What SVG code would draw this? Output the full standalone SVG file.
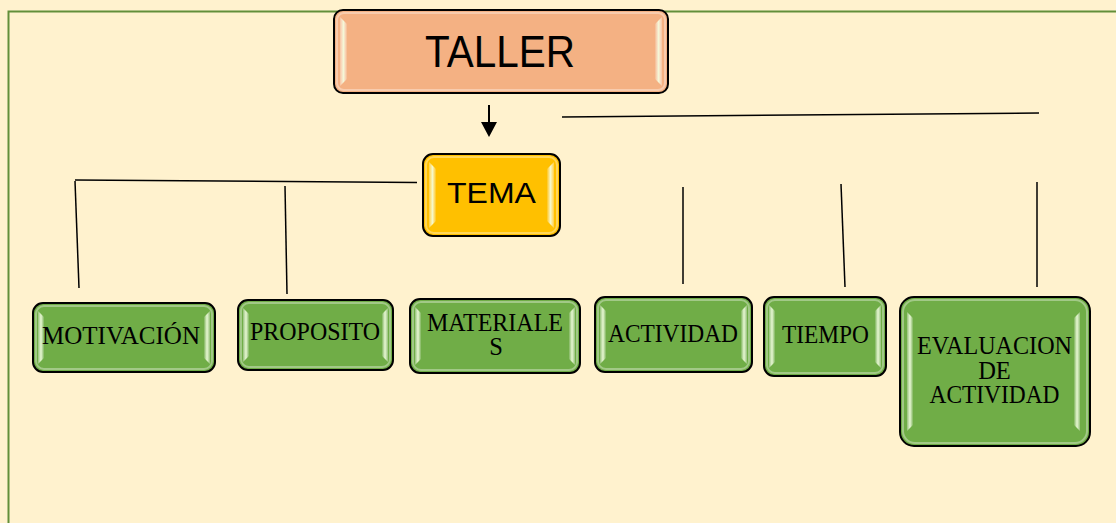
<svg xmlns="http://www.w3.org/2000/svg" width="1116" height="523" viewBox="0 0 1116 523">
<style>
.box{stroke:#000;stroke-width:2}
.green{fill:#70AD47}
.lbl{font-family:"Liberation Serif","Times New Roman",serif;font-size:24.5px;fill:#000;text-anchor:middle}
.sans{font-family:"Liberation Sans",Arial,sans-serif;fill:#000;text-anchor:middle}
.conn{stroke:#000;stroke-width:1.5;fill:none}
.hl{fill:url(#hlL)}
.hr{fill:url(#hlR)}
.inner{fill:none;stroke:#fff;stroke-opacity:0.35;stroke-width:2}
</style>
<defs>
<linearGradient id="hlL" x1="0" y1="0" x2="1" y2="0">
<stop offset="0" stop-color="#fff" stop-opacity="0.25"/>
<stop offset="0.5" stop-color="#f4ffe0" stop-opacity="0.9"/>
<stop offset="1" stop-color="#fff" stop-opacity="0.1"/>
</linearGradient>
<linearGradient id="hlR" x1="0" y1="0" x2="1" y2="0">
<stop offset="0" stop-color="#fff" stop-opacity="0.1"/>
<stop offset="0.5" stop-color="#f4ffe0" stop-opacity="0.9"/>
<stop offset="1" stop-color="#fff" stop-opacity="0.25"/>
</linearGradient>
</defs>
<rect x="0" y="0" width="1116" height="523" fill="#FFF2CE"/>
<path d="M8.5,523 L8.5,11.5 L1116,11.5" fill="none" stroke="#628F3A" stroke-width="2"/>

<g id="connectors">
<line x1="489" y1="105" x2="489" y2="122" stroke="#000" stroke-width="2"/>
<path d="M481,122 L497,122 L489,137 Z" fill="#000"/>
<line class="conn" x1="562" y1="117" x2="1039" y2="113" stroke-width="2"/>
<line class="conn" x1="75" y1="180" x2="417" y2="182.5"/>
<line class="conn" x1="75" y1="181" x2="79" y2="288"/>
<line class="conn" x1="285" y1="186" x2="287" y2="294"/>
<line class="conn" x1="683" y1="187" x2="683" y2="284"/>
<line class="conn" x1="841" y1="184" x2="845" y2="287"/>
<line class="conn" x1="1037" y1="182" x2="1037" y2="287"/>
</g>

<g id="taller">
<rect class="box" x="334" y="10" width="334" height="83" rx="9" fill="#F4B183"/>
<rect class="inner" x="337" y="13" width="328" height="77" rx="7"/>
<path class="hl" d="M340,17 L347,24 L347,79 L340,86 Z"/>
<path class="hr" d="M655,24 L662,17 L662,86 L655,79 Z"/>
<text class="sans" x="500" y="67" font-size="45" textLength="150" lengthAdjust="spacingAndGlyphs">TALLER</text>
</g>

<g id="tema">
<rect class="box" x="423" y="154" width="137" height="82" rx="10" fill="#FFC000"/>
<rect class="inner" x="426" y="157" width="131" height="76" rx="8"/>
<path class="hl" d="M429,162 L436,169 L436,221 L429,228 Z"/>
<path class="hr" d="M547,169 L554,162 L554,228 L547,221 Z"/>
<text class="sans" x="491.5" y="203" font-size="30" textLength="89" lengthAdjust="spacingAndGlyphs">TEMA</text>
</g>

<g id="motivacion">
<rect class="box green" x="33" y="303" width="182" height="69" rx="10"/>
<rect class="inner" x="36" y="306" width="176" height="63" rx="8"/>
<path class="hl" d="M38,311 L44,317 L44,358 L38,364 Z"/>
<path class="hr" d="M204,317 L210,311 L210,364 L204,358 Z"/>
<text class="lbl" x="121" y="344" textLength="158" lengthAdjust="spacingAndGlyphs">MOTIVACIÓN</text>
</g>

<g id="proposito">
<rect class="box green" x="238" y="300" width="155" height="70" rx="10"/>
<rect class="inner" x="241" y="303" width="149" height="64" rx="8"/>
<path class="hl" d="M243,308 L249,314 L249,356 L243,362 Z"/>
<path class="hr" d="M382,314 L388,308 L388,362 L382,356 Z"/>
<text class="lbl" x="315" y="340" textLength="130" lengthAdjust="spacingAndGlyphs">PROPOSITO</text>
</g>

<g id="materiales">
<rect class="box green" x="410" y="299" width="170" height="74" rx="10"/>
<rect class="inner" x="413" y="302" width="164" height="68" rx="8"/>
<path class="hl" d="M415,307 L421,313 L421,359 L415,365 Z"/>
<path class="hr" d="M569,313 L575,307 L575,365 L569,359 Z"/>
<text class="lbl" x="495" y="331" textLength="136" lengthAdjust="spacingAndGlyphs">MATERIALE</text>
<text class="lbl" x="496" y="355">S</text>
</g>

<g id="actividad">
<rect class="box green" x="595" y="297" width="157" height="75" rx="10"/>
<rect class="inner" x="598" y="300" width="151" height="69" rx="8"/>
<path class="hl" d="M600,305 L606,311 L606,358 L600,364 Z"/>
<path class="hr" d="M741,311 L747,305 L747,364 L741,358 Z"/>
<text class="lbl" x="673" y="342" textLength="130" lengthAdjust="spacingAndGlyphs">ACTIVIDAD</text>
</g>

<g id="tiempo">
<rect class="box green" x="764" y="297" width="122" height="79" rx="10"/>
<rect class="inner" x="767" y="300" width="116" height="73" rx="8"/>
<path class="hl" d="M769,305 L775,311 L775,362 L769,368 Z"/>
<path class="hr" d="M875,311 L881,305 L881,368 L875,362 Z"/>
<text class="lbl" x="825.5" y="343" textLength="87" lengthAdjust="spacingAndGlyphs">TIEMPO</text>
</g>

<g id="evaluacion">
<rect class="box green" x="900" y="297" width="190" height="149" rx="14"/>
<rect class="inner" x="903" y="300" width="184" height="143" rx="12"/>
<path class="hl" d="M907,312 L913,318 L913,425 L907,431 Z"/>
<path class="hr" d="M1074,318 L1080,312 L1080,431 L1074,425 Z"/>
<text class="lbl" x="994.5" y="354" textLength="155" lengthAdjust="spacingAndGlyphs">EVALUACION</text>
<text class="lbl" x="994.5" y="379">DE</text>
<text class="lbl" x="994.5" y="403" textLength="130" lengthAdjust="spacingAndGlyphs">ACTIVIDAD</text>
</g>
</svg>
